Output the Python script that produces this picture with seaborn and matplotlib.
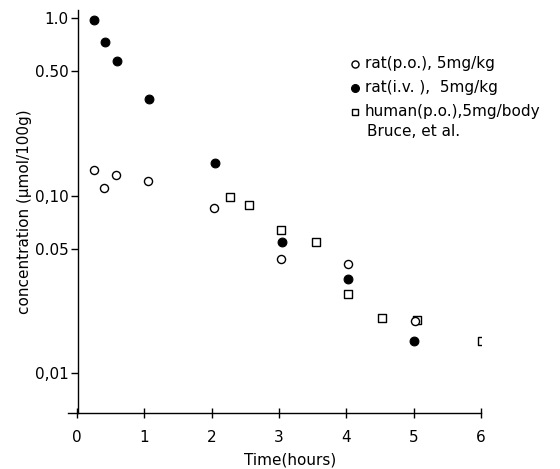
import matplotlib
matplotlib.use("Agg")
import matplotlib.pyplot as plt
import seaborn as sns
import pandas as pd

# --- data ---
po_time = [0.25, 0.4, 0.58, 1.05, 2.03, 3.03, 4.03, 5.02]
po_conc = [0.140, 0.110, 0.131, 0.120, 0.085, 0.044, 0.041, 0.0197]

iv_time = [0.25, 0.42, 0.6, 1.07, 2.05, 3.04, 4.03, 5.0]
iv_conc = [0.98, 0.73, 0.575, 0.35, 0.153, 0.055, 0.0337, 0.0152]

hu_time = [2.27, 2.55, 3.03, 3.55, 4.02, 4.53, 5.05, 6.02]
hu_conc = [0.098, 0.089, 0.064, 0.0545, 0.0278, 0.0203, 0.0200, 0.0152]

labels = ["rat(p.o.), 5mg/kg", "rat(i.v. ),  5mg/kg", "human(p.o.),5mg/body"]
ytick_vals = [0.01, 0.05, 0.10, 0.50, 1.0]
ytick_labels = ["0,01", "0.05", "0,10", "0.50", "1.0"]
xtick_vals = [0, 1, 2, 3, 4, 5, 6]

sns.set_style("ticks")
plt.rcParams['font.family'] = ['DejaVu Sans']
plt.rcParams.update({"text.color": "black", "axes.labelcolor": "black",
                     "xtick.color": "black", "ytick.color": "black",
                     "axes.edgecolor": "black"})

fig = plt.figure(figsize=(5.6, 4.69), dpi=100)
ax = fig.add_axes([68/560, 1 - 412.5/469, (481 - 68)/560, (412.5 - 10)/469])

df_po = pd.DataFrame({"t": po_time, "c": po_conc})
df_iv = pd.DataFrame({"t": iv_time, "c": iv_conc})
df_hu = pd.DataFrame({"t": hu_time, "c": hu_conc})

sns.scatterplot(data=df_po, x="t", y="c", ax=ax, marker="o", s=34,
                facecolor="white", edgecolor="black", linewidth=1.0, label=labels[0], zorder=3)
sns.scatterplot(data=df_iv, x="t", y="c", ax=ax, marker="o", s=40,
                color="black", edgecolor="black", linewidth=0.8, label=labels[1], zorder=3)
sns.scatterplot(data=df_hu, x="t", y="c", ax=ax, marker="s", s=30,
                facecolor="white", edgecolor="black", linewidth=1.0, label=labels[2], zorder=2)

ax.set_yscale("log")
ax.set_ylim(0.00599, 1.11)
ax.set_xlim(-0.13, 6.0)

ax.set_yticks(ytick_vals)
ax.set_yticklabels(ytick_labels)
ax.yaxis.set_minor_locator(matplotlib.ticker.NullLocator())
ax.set_xticks(xtick_vals)
ax.set_xticklabels([str(v) for v in xtick_vals])

for s in ["top", "right"]:
    ax.spines[s].set_visible(False)
ax.spines["left"].set_position(("data", 0.02))
ax.spines["left"].set_linewidth(1.0)
ax.spines["bottom"].set_linewidth(1.0)

ax.tick_params(axis="y", direction="out", length=5, width=1, labelsize=11, pad=2)
ax.tick_params(axis="x", direction="inout", length=7, width=1, labelsize=11, pad=9)

ax.set_xlabel("Time(hours)", fontsize=11, va="center")
ax.set_ylabel("concentration (\u03bcmol/100g)", fontsize=11, labelpad=2)
ax.xaxis.set_label_coords((290.5 - 68) / 413, -(460 - 412.5) / 402.5)

leg = ax.legend(loc="upper left", bbox_to_anchor=(347/560, 1 - 56/469),
                bbox_transform=fig.transFigure, frameon=False, fontsize=11,
                handletextpad=0.15, handlelength=1.0, labelspacing=0.6,
                borderpad=0, borderaxespad=0)
hs = leg.legend_handles
hs[0].set_sizes([26])
hs[1].set_sizes([32])
hs[2].set_sizes([18])
fig.text(367/560, 1 - 132/469, "Bruce, et al.", fontsize=11, va="center", ha="left")

fig.savefig("out.png", dpi=100)
